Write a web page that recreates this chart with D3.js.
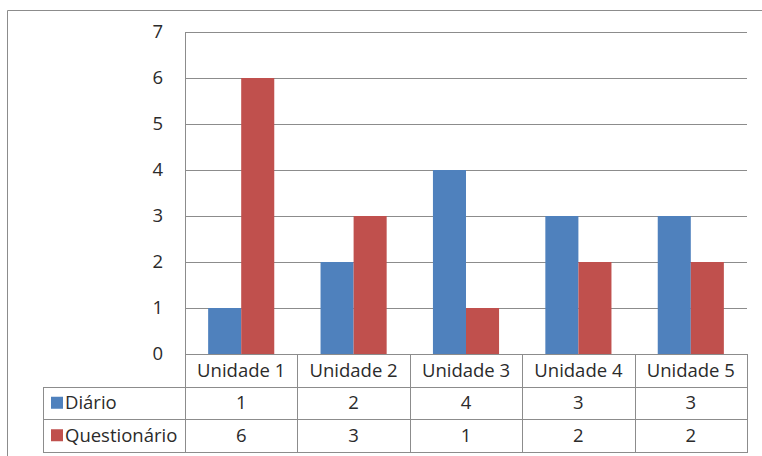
<!DOCTYPE html>
<html>
<head>
<meta charset="utf-8">
<script src="https://cdn.jsdelivr.net/npm/d3@7"></script>
<style>
  body { margin: 0; background: #fff; }
  text { font-family: "Open Sans", sans-serif; fill: #2b2b2b; }
</style>
</head>
<body>
<div class="chart"></div>
<script>
const categories = ["Unidade 1", "Unidade 2", "Unidade 3", "Unidade 4", "Unidade 5"];
const seriesNames = ["Diário", "Questionário"];
const diario = [1, 2, 4, 3, 3];
const questionario = [6, 3, 1, 2, 2];
const yTicks = [0, 1, 2, 3, 4, 5, 6, 7];
const colors = ["#4f81bd", "#c0504d"];

const width = 762, height = 456;
const plotLeft = 185, plotRight = 747, plotTop = 32, plotBottom = 354;
const rowH = 32.5;
const tableLeft = 43;
const lineColor = "#8c8c8c";
const fontSize = "18.5px";

const svg = d3.select(".chart")
  .append("svg")
  .attr("width", width)
  .attr("height", height);

// outer chart border (right and bottom fall outside the frame)
svg.append("path")
  .attr("d", `M7.5,${height + 5}V10.5H${width + 5}`)
  .attr("fill", "none")
  .attr("stroke", lineColor);

const x = d3.scaleBand()
  .domain(categories)
  .range([plotLeft, plotRight]);

const x1 = d3.scaleBand()
  .domain(seriesNames)
  .range([0, x.bandwidth()])
  .paddingOuter(0.7);

const y = d3.scaleLinear()
  .domain([0, 7])
  .range([plotBottom, plotTop]);

// gridlines
svg.append("g")
  .selectAll("line")
  .data(yTicks.filter(d => d > 0))
  .enter()
  .append("line")
  .attr("x1", plotLeft)
  .attr("x2", plotRight)
  .attr("y1", d => Math.round(y(d)) + 0.5)
  .attr("y2", d => Math.round(y(d)) + 0.5)
  .attr("stroke", lineColor);

// y tick labels
svg.append("g")
  .selectAll("text")
  .data(yTicks)
  .enter()
  .append("text")
  .attr("x", 163)
  .attr("y", d => y(d) + 6)
  .attr("text-anchor", "end")
  .style("font-size", fontSize)
  .text(d => d);

// bars
const data = categories.map((c, i) => ({ cat: c, values: [diario[i], questionario[i]] }));
svg.append("g")
  .selectAll("g")
  .data(data)
  .enter()
  .append("g")
  .attr("transform", d => `translate(${x(d.cat)},0)`)
  .selectAll("rect")
  .data(d => d.values.map((v, j) => ({ name: seriesNames[j], value: v, j })))
  .enter()
  .append("rect")
  .attr("x", d => x1(d.name))
  .attr("y", d => y(d.value))
  .attr("width", x1.bandwidth())
  .attr("height", d => y(0) - y(d.value))
  .attr("fill", d => colors[d.j]);

// data table lines
const tableTop = plotBottom;
const rowsY = [tableTop, tableTop + rowH, tableTop + 2 * rowH, tableTop + 3 * rowH];
const grid = svg.append("g").attr("stroke", lineColor).attr("fill", "none");

grid.append("line")
  .attr("x1", plotLeft).attr("x2", plotRight)
  .attr("y1", Math.round(tableTop) + 0.5).attr("y2", Math.round(tableTop) + 0.5);
rowsY.slice(1).forEach(ry => {
  grid.append("line")
    .attr("x1", tableLeft).attr("x2", plotRight)
    .attr("y1", Math.round(ry) + 0.5).attr("y2", Math.round(ry) + 0.5);
});
grid.append("line")
  .attr("x1", tableLeft + 0.5).attr("x2", tableLeft + 0.5)
  .attr("y1", Math.round(rowsY[1])).attr("y2", Math.round(rowsY[3]) + 1);
// value axis line continues down through the table
grid.append("line")
  .attr("x1", plotLeft + 0.5).attr("x2", plotLeft + 0.5)
  .attr("y1", plotTop).attr("y2", Math.round(rowsY[3]) + 1);
categories.forEach(c => {
  const bx = Math.round(x(c) + x.bandwidth()) + 0.5;
  grid.append("line")
    .attr("x1", bx).attr("x2", bx)
    .attr("y1", Math.round(tableTop)).attr("y2", Math.round(rowsY[3]) + 1);
});

// category header
svg.append("g")
  .selectAll("text")
  .data(categories)
  .enter()
  .append("text")
  .attr("x", d => x(d) + x.bandwidth() / 2)
  .attr("y", tableTop + rowH / 2 + 6.5)
  .attr("text-anchor", "middle")
  .style("font-size", fontSize)
  .text(d => d);

// series rows
const seriesVals = [diario, questionario];
seriesNames.forEach((name, j) => {
  const cy = rowsY[j + 1] + rowH / 2;
  svg.append("rect")
    .attr("x", 51)
    .attr("y", cy - 6)
    .attr("width", 12)
    .attr("height", 12)
    .attr("fill", colors[j]);
  svg.append("text")
    .attr("x", 65)
    .attr("y", cy + 6.5)
    .style("font-size", fontSize)
    .text(name);
  svg.append("g")
    .selectAll("text")
    .data(seriesVals[j])
    .enter()
    .append("text")
    .attr("x", (d, i) => x(categories[i]) + x.bandwidth() / 2)
    .attr("y", cy + 6.5)
    .attr("text-anchor", "middle")
    .style("font-size", fontSize)
    .text(d => d);
});
</script>
</body>
</html>
